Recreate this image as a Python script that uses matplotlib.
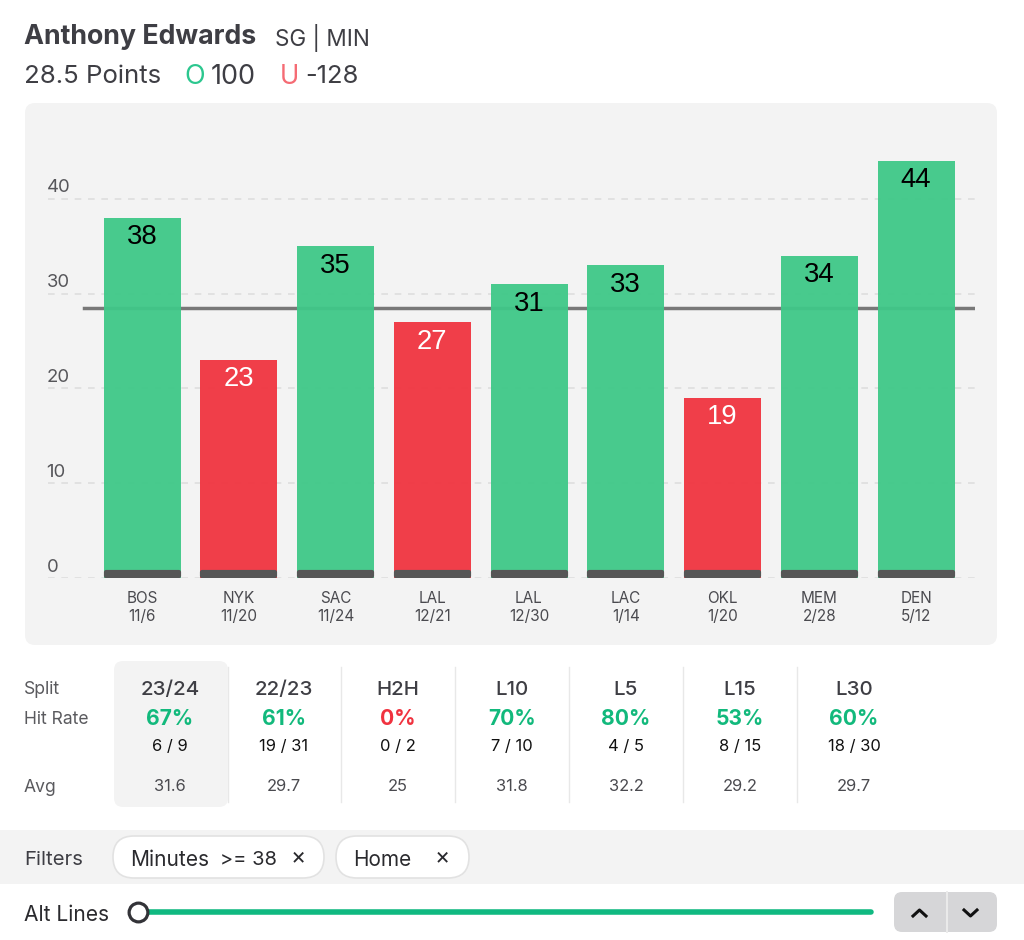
import matplotlib
matplotlib.use("Agg")
import matplotlib.pyplot as plt
from matplotlib.patches import FancyBboxPatch, Rectangle
from matplotlib.transforms import ScaledTranslation

plt.rcParams['font.family'] = ['Inter', 'DejaVu Sans']

teams = ['BOS', 'NYK', 'SAC', 'LAL', 'LAL', 'LAC', 'OKL', 'MEM', 'DEN']
dates = ['11/6', '11/20', '11/24', '12/21', '12/30', '1/14', '1/20', '2/28', '5/12']
points = [38, 23, 35, 27, 31, 33, 19, 34, 44]
prop_line = 28.5
y_ticks = [0, 10, 20, 30, 40]

splits = ['23/24', '22/23', 'H2H', 'L10', 'L5', 'L15', 'L30']
hit_rates = [67, 61, 0, 70, 80, 53, 60]
hit_counts = ['6 / 9', '19 / 31', '0 / 2', '7 / 10', '4 / 5', '8 / 15', '18 / 30']
averages = ['31.6', '29.7', '25', '31.8', '32.2', '29.2', '29.7']

GREEN = '#3FC888'
RED = '#F03440'
TXT = '#3E3E44'
PANEL = '#F3F3F3'
GOOD = '#12B97C'
BAD = '#F0323F'

W, H = 1024, 940
fig = plt.figure(figsize=(W / 100, H / 100), dpi=100, facecolor='white')
px = 0.72  # points per pixel

ui = fig.add_axes([0, 0, 1, 1], zorder=0)
ui.set_xlim(0, W)
ui.set_ylim(H, 0)
ui.axis('off')


def rbox(x0, y0, x1, y1, r, fc, ec='none', lw=0, z=1):
    ui.add_patch(FancyBboxPatch((x0 + r, y0 + r), x1 - x0 - 2 * r, y1 - y0 - 2 * r,
                                boxstyle=f'round,pad={r},rounding_size={r}',
                                fc=fc, ec=ec, lw=lw, zorder=z))


def t(x, y, s, size, color=TXT, ha='left', weight='normal', family=None):
    kw = {'family': family} if family else {}
    return ui.text(x, y, s, fontsize=size * px, color=color, ha=ha, va='center_baseline',
                   fontweight=weight, zorder=5, **kw)


# header
t(24, 34, 'Anthony Edwards', 26.8, weight='bold')
t(275, 35, 'SG | MIN', 22.5)
t(24, 74, '28.5 Points', 25.8)
t(184.5, 74, 'O', 27, color='#2CC78F')
t(211, 74, '100', 27)
t(280, 74, 'U', 26, color='#F56B74')
t(305, 74, '-128', 25.5)

# chart panel
rbox(25, 103, 997, 645, 10, PANEL)

# chart axes: pixel rectangle x 48..975, y 103..578
left, right, top, bottom = 48, 975, 103, 578
ax = fig.add_axes([left / W, 1 - bottom / H, (right - left) / W, (bottom - top) / H], zorder=2)
ax.patch.set_alpha(0)
step = 96.75
ax.set_xlim((left - 142) / step, (right - 142) / step)
ax.set_ylim(0, (bottom - top) / 9.48)
for sp in ax.spines.values():
    sp.set_visible(False)

xs = list(range(len(points)))
colors = [GREEN if p > prop_line else RED for p in points]
ax.set_axisbelow(True)
ax.yaxis.grid(True, color='#DEDEDE', lw=1.2, ls=(0, (4, 4)))
ax.xaxis.grid(False)
ax.axhline(prop_line, xmin=(84 - left) / (right - left), xmax=(974 - left) / (right - left),
           color='#787878', lw=2.5, zorder=1.5)
ax.bar(xs, points, width=77 / step, color=colors, alpha=0.95, zorder=2)
ax.bar(xs, [0.42] * len(xs), bottom=0.21, width=73 / step, color='#565656', edgecolor='#565656',
       lw=3, joinstyle='round', zorder=3)

for x, p, c in zip(xs, points, colors):
    ax.annotate(str(p), (x, p), xytext=(0, -16.5 * px), textcoords='offset points', ha='center',
                va='center_baseline', fontsize=27.5 * px, family='Liberation Sans',
                color='black' if c == GREEN else 'white', zorder=6)

ax.set_xticks(xs, [f'{a}\n{b}' for a, b in zip(teams, dates)])
ax.set_yticks(y_ticks, [str(v) for v in y_ticks])
ax.tick_params(axis='x', length=0, pad=9.5, labelsize=15.3 * px, labelcolor='#4A4A4F')
ax.tick_params(axis='y', length=0, pad=1, labelsize=18.5 * px, labelcolor='#56565A')
shift = ScaledTranslation(0, 13 / 100, fig.dpi_scale_trans)
for lab in ax.get_yticklabels():
    lab.set_ha('left')
    lab.set_va('center_baseline')
    lab.set_transform(lab.get_transform() + shift)

# splits table
for i in range(0, 6):
    x = 227.5 + 114 * i - (1 if i else 0)
    ui.plot([x, x], [667, 802], color='#E8E8E8', lw=1, zorder=1)
rbox(114, 661, 228, 807, 9, PANEL, z=1.5)
t(24, 687, 'Split', 17.5, color='#5A5A5E')
t(24, 717, 'Hit Rate', 17.5, color='#5A5A5E')
t(24, 785, 'Avg', 17.5, color='#5A5A5E')
for i, (s, h, c, a) in enumerate(zip(splits, hit_rates, hit_counts, averages)):
    x = 170 + 114 * i
    t(x, 688, s, 20.5, ha='center', weight='medium')
    t(x, 717, f'{h}%', 21, color=GOOD if h else BAD, ha='center', weight='bold')
    t(x, 745, c, 16.5, color='#111111', ha='center')
    t(x, 785, a, 16.5, color='#4A4A4F', ha='center')

# filters band
ui.add_patch(Rectangle((0, 830), W, 54, fc=PANEL, ec='none', zorder=1))
t(24, 858, 'Filters', 20.3)
rbox(113, 836, 324, 878, 21, 'white', ec='#E2E2E2', lw=1.2, z=2)
rbox(336, 836, 469, 878, 21, 'white', ec='#E2E2E2', lw=1.2, z=2)
t(130, 858, 'Minutes', 21, color='#2A2A2E')
t(220, 858, '>= 38', 20, color='#2A2A2E')
t(298, 855, '×', 23, color='#2A2A2E', ha='center')
t(353, 858, 'Home', 20.8, color='#2A2A2E')
t(442, 855, '×', 23, color='#2A2A2E', ha='center')

# alt lines slider
t(24, 913, 'Alt Lines', 21, color='#2A2A2E')
ui.plot([140, 871], [912, 912], color='#10B981', lw=4, solid_capstyle='round', zorder=2)
ui.plot([137.5], [912], 'o', ms=13.5, mfc='white', mec='#333338', mew=2.3, zorder=3)
rbox(894, 892, 997, 932, 8, '#D6D6D8', z=2)
ui.plot([946.5, 946.5], [892, 932], color='#EBEBEB', lw=1.4, zorder=3)
ui.plot([913, 919.5, 926], [916, 910, 916], color='#111111', lw=2.2, zorder=4)
ui.plot([964, 970.5, 977], [910, 916, 910], color='#111111', lw=2.2, zorder=4)

fig.savefig('out.png', dpi=100)
